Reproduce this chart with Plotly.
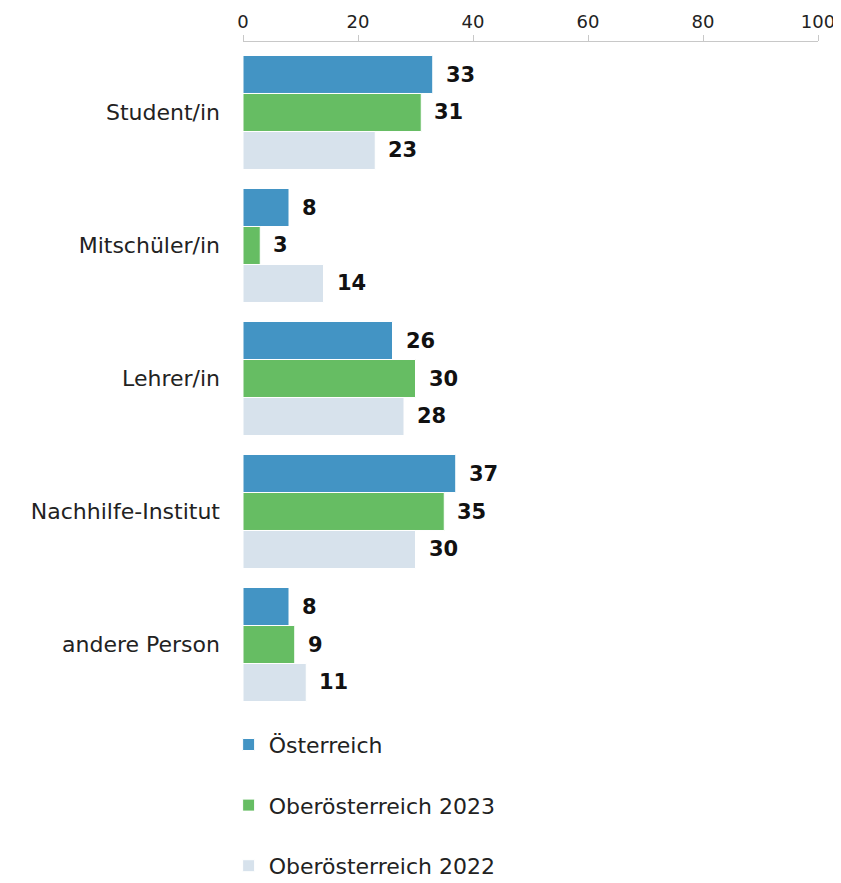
import plotly.graph_objects as go

categories = ["Student/in", "Mitschüler/in", "Lehrer/in", "Nachhilfe-Institut", "andere Person"]
series_names = ["Österreich", "Oberösterreich 2023", "Oberösterreich 2022"]
oesterreich = [33, 8, 26, 37, 8]
ooe_2023 = [31, 3, 30, 35, 9]
ooe_2022 = [23, 14, 28, 30, 11]
colors = ["#4394c4", "#66bd63", "#d7e2ec"]
x_ticks = [0, 20, 40, 60, 80, 100]

FONT = "DejaVu Sans"
all_values = [oesterreich, ooe_2023, ooe_2022]

fig = go.Figure()
for i, (name, vals, col) in enumerate(zip(series_names, all_values, colors)):
    fig.add_trace(go.Bar(
        y=categories, x=vals, name=name, orientation="h",
        marker=dict(color=col, line=dict(color="white", width=1)),
        legendgroup=f"g{i}",
    ))

bargap = 0.143
bw = (1 - bargap) / 3
annotations = []
for i, vals in enumerate(all_values):
    off = (i - 1) * bw
    for j, v in enumerate(vals):
        annotations.append(dict(
            x=v, y=j + off, xref="x", yref="y", text=f"<b>{v}</b>",
            showarrow=False, xanchor="left", yanchor="middle", xshift=11,
            font=dict(family=FONT, size=21, color="#111"),
        ))

# the page body has an 8px default margin, so the figure is sized to fit inside it
fig.update_layout(
    width=833, height=875,
    margin=dict(l=235, r=23, t=34, b=172, autoexpand=False),
    plot_bgcolor="white", paper_bgcolor="white",
    barmode="group", bargap=bargap, bargroupgap=0,
    font=dict(family=FONT, size=21, color="#222"),
    annotations=annotations,
    xaxis=dict(
        side="top", range=[0, 100], tickvals=x_ticks, showgrid=False, zeroline=False,
        showline=True, linecolor="#c8c8c8", linewidth=1, automargin=False,
        ticks="outside", ticklen=6, tickcolor="#c8c8c8", ticklabeloverflow="allow",
        tickfont=dict(family=FONT, size=18, color="#222"),
    ),
    yaxis=dict(
        range=[4.5, -0.53], showgrid=False, zeroline=False, showline=False,
        ticks="", ticklabelstandoff=22, automargin=False,
        tickfont=dict(family=FONT, size=22, color="#222"),
    ),
    showlegend=True,
    legend=dict(
        orientation="v", x=-0.025, xanchor="left", y=-0.019, yanchor="top",
        traceorder="grouped", tracegroupgap=29,
        font=dict(family=FONT, size=22, color="#222"),
    ),
)

fig.write_html("out.html")
